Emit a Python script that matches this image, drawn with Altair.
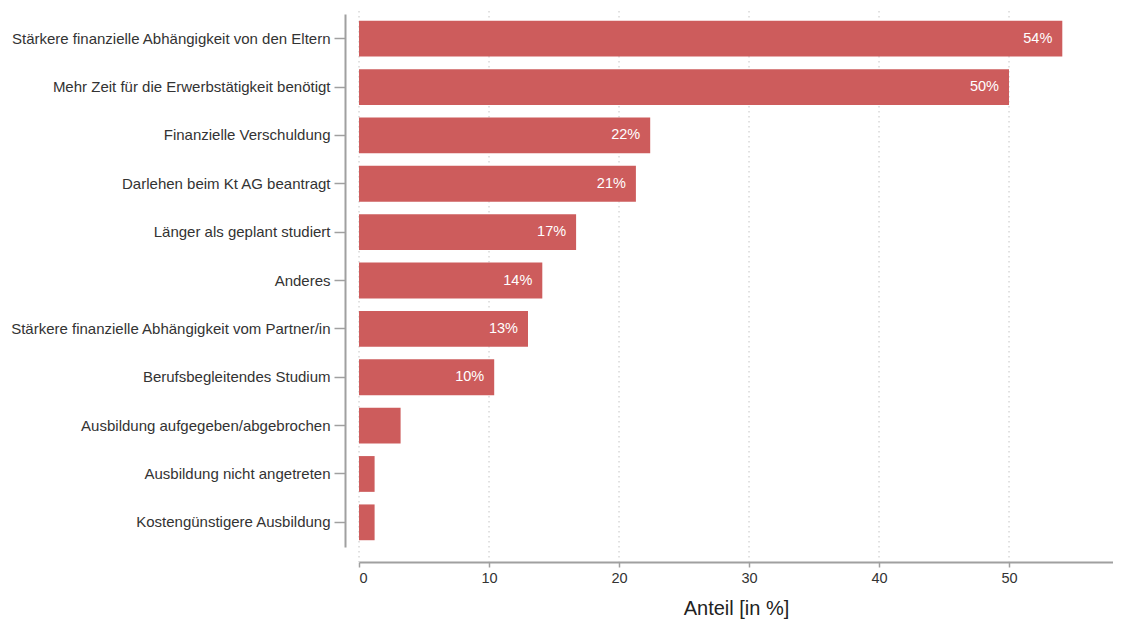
import altair as alt
import pandas as pd

categories = [
    "Stärkere finanzielle Abhängigkeit von den Eltern",
    "Mehr Zeit für die Erwerbstätigkeit benötigt",
    "Finanzielle Verschuldung",
    "Darlehen beim Kt AG beantragt",
    "Länger als geplant studiert",
    "Anderes",
    "Stärkere finanzielle Abhängigkeit vom Partner/in",
    "Berufsbegleitendes Studium",
    "Ausbildung aufgegeben/abgebrochen",
    "Ausbildung nicht angetreten",
    "Kostengünstigere Ausbildung",
]
values = [54.1, 50.0, 22.4, 21.3, 16.7, 14.1, 13.0, 10.4, 3.2, 1.2, 1.2]
labels = ["54%", "50%", "22%", "21%", "17%", "14%", "13%", "10%", "", "", ""]
grid_values = [0, 10, 20, 30, 40, 50]

df = pd.DataFrame({"cat": categories, "value": values, "label": labels})
grid_df = pd.DataFrame({"g": grid_values})

W, H = 754, 533
FONT = "Liberation Sans"

xscale = alt.Scale(domain=[0, 58.0], nice=False, zero=True)
yscale = alt.Scale(domain=categories, paddingInner=0.26, paddingOuter=0.14)

xaxis = alt.Axis(
    values=grid_values,
    title="Anteil [in %]",
    offset=15,
    grid=False,
    tickSize=5,
    labelPadding=4,
    labelFontSize=14.5,
    labelColor="#333333",
    labelFont=FONT,
    titleFont=FONT,
    titleFontSize=20,
    titleFontWeight="normal",
    titleColor="#222222",
    titlePadding=14,
    domainColor="#a0a0a0",
    tickColor="#a0a0a0",
    domainWidth=2,
    tickWidth=1.5,
)

yaxis = alt.Axis(
    title=None,
    offset=14,
    grid=False,
    tickSize=11,
    labelPadding=4,
    labelFontSize=15,
    labelColor="#333333",
    labelFont=FONT,
    domainColor="#a0a0a0",
    tickColor="#a0a0a0",
    domainWidth=2,
    tickWidth=1.5,
    labelLimit=400,
)

grid = alt.Chart(grid_df).mark_rule(
    color="#c4c4c4", strokeWidth=1, strokeDash=[1.5, 3.5]
).encode(
    x=alt.X("g:Q", scale=xscale, axis=xaxis),
    y=alt.value(-8),
    y2=alt.value(H + 15),
)

bars = alt.Chart(df).mark_bar(color="#CD5C5C").encode(
    x=alt.X("value:Q", scale=xscale, axis=xaxis),
    y=alt.Y("cat:N", scale=yscale, sort=categories, axis=yaxis),
)

text = alt.Chart(df).mark_text(
    align="right", baseline="middle", dx=-10, color="white", fontSize=14.5, font=FONT
).encode(
    x=alt.X("value:Q", scale=xscale, axis=xaxis),
    y=alt.Y("cat:N", scale=yscale, sort=categories, axis=yaxis),
    text="label:N",
)

chart = (
    alt.layer(grid, bars, text)
    .properties(
        width=W,
        height=H,
        background="white",
        autosize=alt.AutoSizeParams(type="none"),
        padding={"left": 351, "top": 6, "right": 0, "bottom": 72},
    )
    .configure_view(strokeWidth=0, stroke="transparent")
)

chart.save("out.html", embed_options={"renderer": "svg", "actions": False})
